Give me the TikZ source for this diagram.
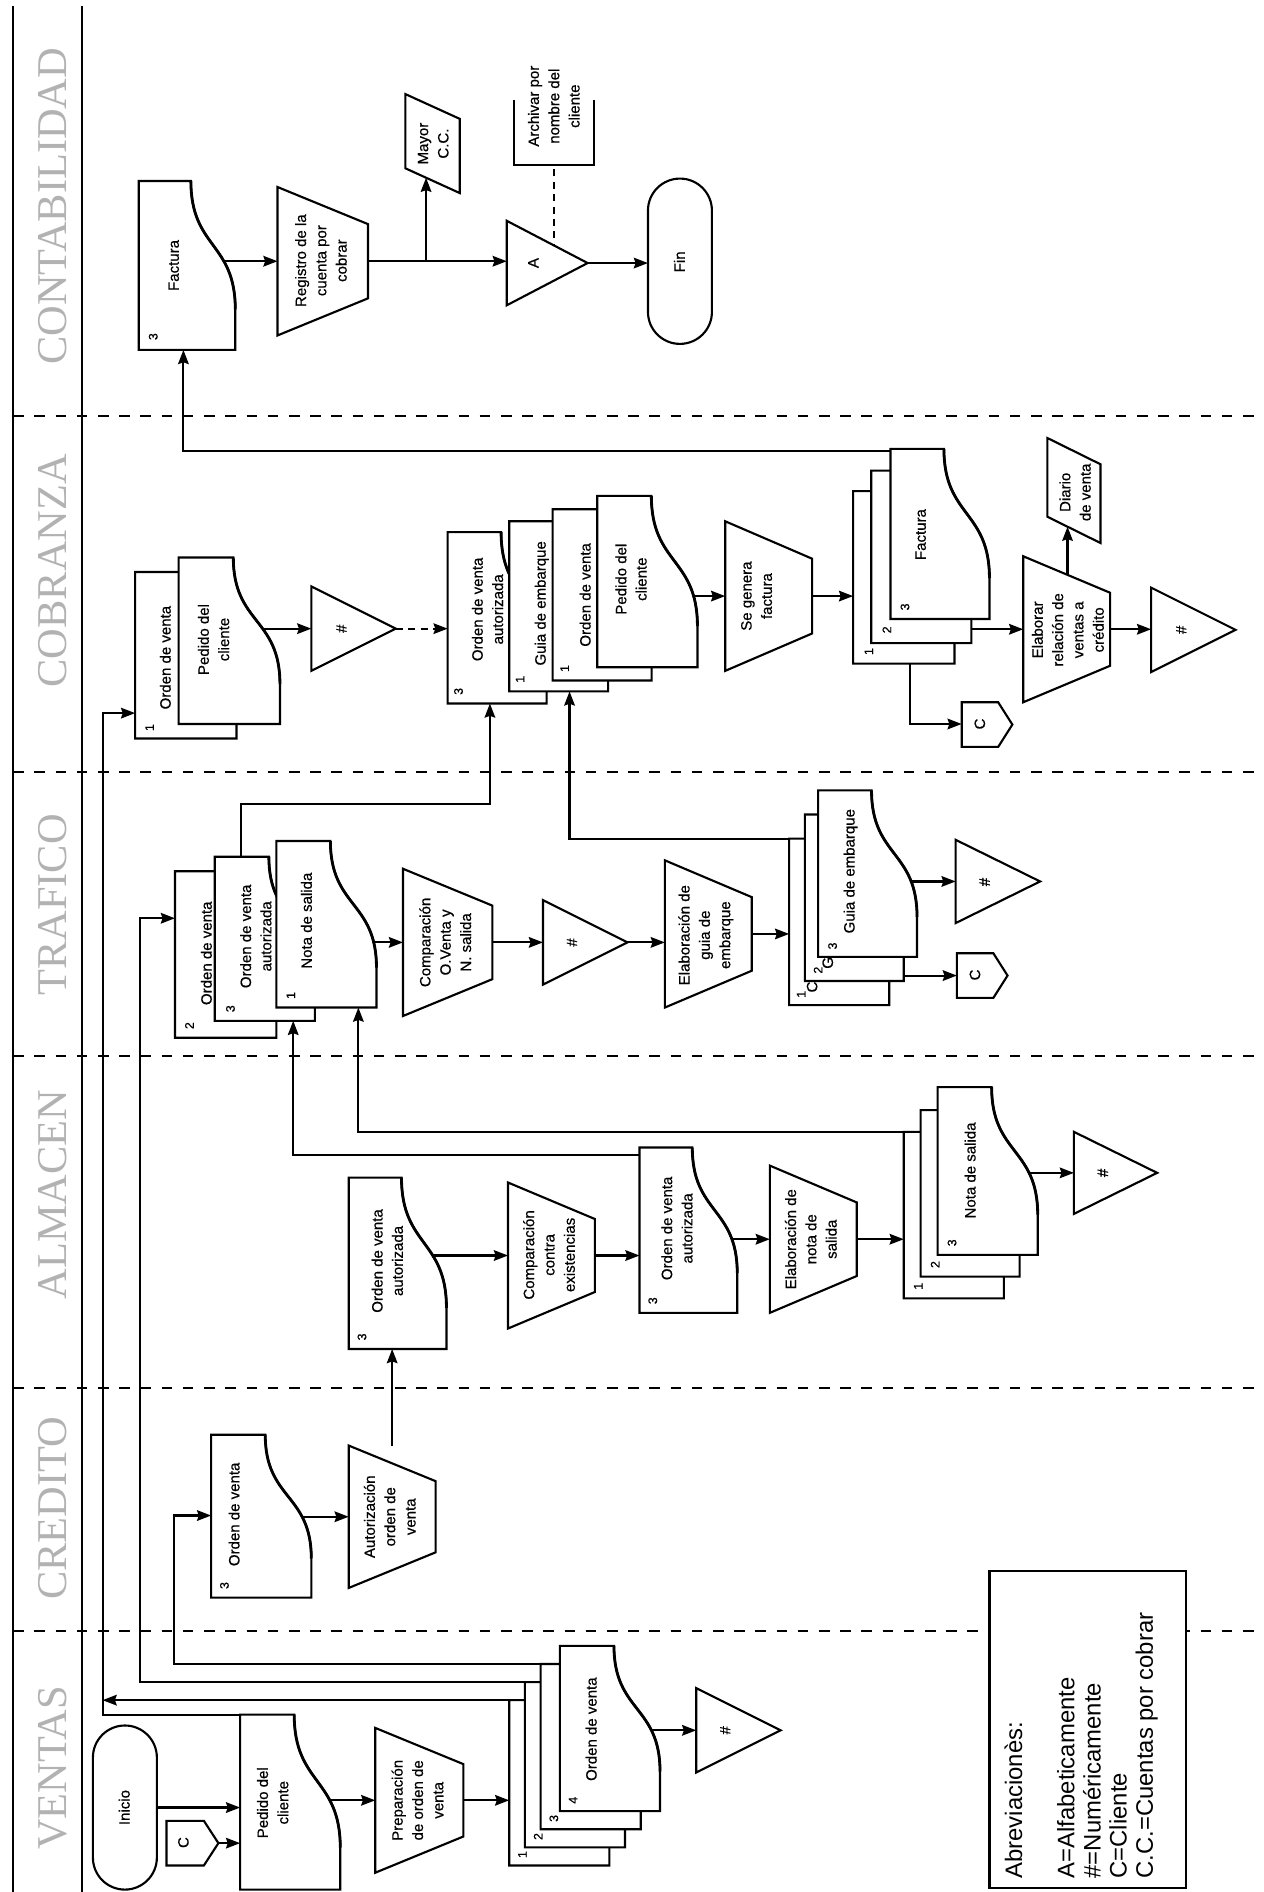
\documentclass[tikz,border=0pt]{standalone}
\usepackage{fontspec}
\setmainfont{Liberation Sans}
\newfontfamily\etiq{Liberation Sans}[FakeBold=0.5]
\newfontfamily\cabecera{Liberation Serif}
\usetikzlibrary{arrows.meta,fit}
\pgfdeclarelayer{fondo}
\pgfsetlayers{fondo,main}

% Documento (borde ondulado a la derecha)
\newcommand{\hoja}[5]{%
  \draw[forma] (#2,#3) -- ({#2+0.54*(#4-#2)},#3)
    .. controls ({#2+0.54*(#4-#2)},{#3+0.4*(#5-#3)}) and (#4,{#3+0.36*(#5-#3)}) .. (#4,{#3+0.76*(#5-#3)})
    -- (#4,#5) -- (#2,#5) -- cycle;
  \draw[line width=1.6pt] ({#2+0.54*(#4-#2)},#3)
    .. controls ({#2+0.54*(#4-#2)},{#3+0.4*(#5-#3)}) and (#4,{#3+0.36*(#5-#3)}) .. (#4,{#3+0.76*(#5-#3)});
  \node[caja, fit={(#2,#3) (#4,#5)}] (#1) {};}
% Operacion manual
\newcommand{\trapecio}[5]{%
  \pgfmathsetmacro{\desl}{0.25*(#5-#3)}
  \draw[forma] (#2,#3) -- (#4,{#3+\desl}) -- (#4,{#5-\desl}) -- (#2,#5) -- cycle;
  \node[caja, fit={(#2,#3) (#4,#5)}] (#1) {};}
% Registro (paralelogramo)
\newcommand{\paral}[5]{%
  \pgfmathsetmacro{\desl}{0.25*(#5-#3)}
  \draw[forma] (#2,#3) -- (#4,{#3+\desl}) -- (#4,#5) -- (#2,{#5-\desl}) -- cycle;
  \node[caja, fit={(#2,#3) (#4,#5)}] (#1) {};
  \coordinate (#1-in) at ({#2+0.38*(#4-#2)},{#5-\desl+0.38*\desl});}
% Archivo
\newcommand{\triang}[5]{%
  \draw[forma] (#2,#3) -- (#4,{(#3+#5)/2}) -- (#2,#5) -- cycle;
  \node[caja, fit={(#2,#3) (#4,#5)}] (#1) {};}
% Conector de pagina
\newcommand{\conec}[5]{%
  \draw[forma] (#2,#3) -- ({#2+0.72*(#4-#2)},#3) -- (#4,{(#3+#5)/2})
    -- ({#2+0.72*(#4-#2)},#5) -- (#2,#5) -- cycle;
  \node[caja, fit={(#2,#3) (#4,#5)}] (#1) {};}
% Terminal
\newcommand{\terminal}[5]{%
  \pgfmathsetmacro{\radio}{(#4-#2)/2}
  \draw[forma] (#2,{#3+\radio}) arc[start angle=180,end angle=360,radius=\radio]
    -- (#4,{#5-\radio}) arc[start angle=0,end angle=180,radius=\radio] -- cycle;
  \node[caja, fit={(#2,#3) (#4,#5)}] (#1) {};}

\begin{document}
\begin{tikzpicture}[x=0.024cm, y=-0.024cm,
  forma/.style={draw, fill=white, line width=1.2pt},
  caja/.style={inner sep=0pt, outer sep=0pt},
  txt/.style={rotate=90, align=center, inner sep=0pt, font=\etiq\fontsize{8.5}{11.5}\selectfont},
  num/.style={rotate=90, inner sep=0pt, font=\etiq\fontsize{7}{8}\selectfont},
  cab/.style={rotate=90, inner sep=0pt, text=gray!60, font=\cabecera\fontsize{24}{24}\selectfont},
  arr/.style={line width=1.2pt, -{Stealth[length=8pt,width=6pt,inset=1pt]}},
  carril/.style={line width=1.2pt, dash pattern=on 6pt off 6pt}]

\useasboundingbox (0,0) rectangle (1047,1568);

% Encabezados
\node[cab] (h-cont) at (44,171) {CONTABILIDAD};
\node[cab] (h-cobr) at (44,473) {COBRANZA};
\node[cab] (h-traf) at (44,750) {TRAFICO};
\node[cab] (h-alm) at (44,990) {ALMACEN};
\node[cab] (h-cred) at (44,1250) {CREDITO};
\node[cab] (h-vent) at (44,1465) {VENTAS};

% CONTABILIDAD
\hoja{fact}{115}{150}{195}{290}
\node[num] (fact-n) at (127,279) {3};
\node[txt] (fact-t) at (144,220) {Factura};
\trapecio{reg}{230}{155}{305}{278}
\node[txt] (reg-t) at (266,216) {Registro de la\\cuenta por\\cobrar};
\paral{mayor}{336}{78}{381}{160}
\node[txt] (mayor-t) at (359,119) {Mayor\\C.C.};
\triang{trA}{420}{183}{487}{253}
\node[txt] (trA-t) at (442,218) {A};
\draw[forma, fill=none] (426,83) -- (426,137) -- (492,137) -- (492,83);
\node[caja, fit={(426,83) (492,137)}] (arch) {};
\node[txt] (arch-t) at (459,88) {Archivar por\\nombre del\\cliente};
\terminal{fin}{537}{148}{590}{285}
\node[txt] (fin-t) at (563,217) {Fin};

% COBRANZA
\hoja{cb1a}{112}{474}{196}{612}
\node[num] (cb1a-n) at (124,603) {1};
\node[txt] (cb1a-t) at (137,545) {Orden de venta};
\hoja{cb1b}{148}{462}{232}{600}
\node[txt] (cb1b-t) at (177,530) {Pedido del\\cliente};
\triang{cbT1}{258}{486}{328}{556}
\node[txt] (cbT1-t) at (283,521) {\#};
\hoja{cbA}{371}{441}{453}{583}
\node[num] (cbA-n) at (380,573) {3};
\node[txt] (cbA-t) at (404,505) {Orden de venta\\autorizada};
\hoja{cbB}{422}{432}{504}{573}
\node[num] (cbB-n) at (431,563) {1};
\node[txt] (cbB-t) at (449,500) {Guia de embarque};
\hoja{cbC}{458}{422}{540}{564}
\node[num] (cbC-n) at (468,554) {1};
\node[txt] (cbC-t) at (485,493) {Orden de venta};
\hoja{cbD}{495}{411}{578}{553}
\node[txt] (cbD-t) at (523,480) {Pedido del\\cliente};
\trapecio{sgf}{601}{432}{673}{556}
\node[txt] (sgf-t) at (627,494) {Se genera\\factura};
\hoja{fc1}{707}{407}{791}{550}
\node[num] (fc1-n) at (720,540) {1};
\hoja{fc2}{722}{390}{805}{533}
\node[num] (fc2-n) at (735,522) {2};
\hoja{fc3}{738}{372}{820}{513}
\node[num] (fc3-n) at (750,503) {3};
\node[txt] (fc3-t) at (763,443) {Factura};
\conec{cC2}{797}{582}{839}{619}
\node[txt] (cC2-t) at (812,600) {C};
\trapecio{elab}{848}{461}{920}{582}
\node[txt] (elab-t) at (885,522) {Elaborar\\relación de\\ventas a\\crédito};
\paral{diario}{868}{363}{912}{450}
\node[txt] (diario-t) at (891,408) {Diario\\de venta};
\triang{cbT2}{954}{487}{1024}{557}
\node[txt] (cbT2-t) at (979,522) {\#};

% TRAFICO
\hoja{tr2}{145}{722}{229}{860}
\node[num] (tr2-n) at (157,850) {2};
\node[txt] (tr2-t) at (171,790) {Orden de venta};
\hoja{tr3}{178}{710}{261}{846}
\node[num] (tr3-n) at (191,836) {3};
\node[txt] (tr3-t) at (212,776) {Orden de venta\\autorizada};
\hoja{tr1}{229}{697}{312}{835}
\node[num] (tr1-n) at (241,825) {1};
\node[txt] (tr1-t) at (254,763) {Nota de salida};
\trapecio{comp1}{334}{720}{408}{842}
\node[txt] (comp1-t) at (369,781) {Comparación\\O.Venta y\\N. salida};
\triang{trT}{450}{746}{520}{816}
\node[txt] (trT-t) at (474,781) {\#};
\trapecio{elg}{551}{713}{623}{835}
\node[txt] (elg-t) at (585,775) {Elaboración de\\guia de\\embarque};
\hoja{gu1}{654}{695}{737}{833}
\node[num] (gu1-n) at (664,824) {1};
\node[txt] (gu1-t) at (673,818) {C};
\hoja{gu2}{667}{675}{749}{813}
\node[num] (gu2-n) at (678,804) {2};
\node[txt] (gu2-t) at (686,798) {G};
\hoja{gu3}{678}{655}{760}{793}
\node[num] (gu3-n) at (690,784) {3};
\node[txt] (gu3-t) at (705,722) {Guia de embarque};
\triang{trT2}{792}{696}{862}{765}
\node[txt] (trT2-t) at (816,731) {\#};
\conec{cC1}{793}{790}{835}{827}
\node[txt] (cC1-t) at (808,808) {C};

% ALMACEN
\hoja{alm1}{289}{976}{370}{1118}
\node[num] (alm1-n) at (300,1108) {3};
\node[txt] (alm1-t) at (321,1045) {Orden de venta\\autorizada};
\trapecio{compE}{421}{980}{493}{1101}
\node[txt] (compE-t) at (455,1040) {Comparación\\contra\\existencias};
\hoja{alm2}{530}{951}{611}{1088}
\node[num] (alm2-n) at (541,1078) {3};
\node[txt] (alm2-t) at (561,1018) {Orden de venta\\autorizada};
\trapecio{eln}{638}{966}{710}{1088}
\node[txt] (eln-t) at (672,1027) {Elaboración de\\nota de\\salida};
\hoja{nt1}{749}{938}{832}{1076}
\node[num] (nt1-n) at (761,1066) {1};
\hoja{nt2}{763}{920}{845}{1058}
\node[num] (nt2-n) at (775,1048) {2};
\hoja{nt3}{777}{901}{860}{1040}
\node[num] (nt3-n) at (789,1030) {3};
\node[txt] (nt3-t) at (804,970) {Nota de salida};
\triang{ntT}{890}{938}{959}{1006}
\node[txt] (ntT-t) at (914,972) {\#};

% CREDITO
\hoja{cred}{175}{1189}{258}{1324}
\node[num] (cred-n) at (186,1314) {3};
\node[txt] (cred-t) at (194,1255) {Orden de venta};
\trapecio{autz}{289}{1198}{361}{1316}
\node[txt] (autz-t) at (323,1257) {Autorización\\orden de\\venta};

% VENTAS
\terminal{ini}{77}{1430}{130}{1566}
\node[txt] (ini-t) at (103,1498) {Inicio};
\conec{cC0}{138}{1509}{181}{1546}
\node[txt] (cC0-t) at (152,1527) {C};
\hoja{ped}{199}{1421}{282}{1566}
\node[txt] (ped-t) at (226,1494) {Pedido del\\cliente};
\trapecio{prep}{311}{1432}{384}{1552}
\node[txt] (prep-t) at (346,1492) {Preparación\\de orden de\\venta};
\hoja{ov1}{422}{1409}{505}{1546}
\node[num] (ov1-n) at (433,1537) {1};
\hoja{ov2}{435}{1394}{518}{1531}
\node[num] (ov2-n) at (446,1522) {2};
\hoja{ov3}{448}{1379}{531}{1516}
\node[num] (ov3-n) at (459,1507) {3};
\hoja{ov4}{464}{1364}{547}{1501}
\node[num] (ov4-n) at (475,1492) {4};
\node[txt] (ov4-t) at (490,1433) {Orden de venta};
\triang{vT}{577}{1399}{647}{1469}
\node[txt] (vT-t) at (601,1434) {\#};

% Abreviaciones
\node[forma, caja, fit={(820,1302) (983,1565)}] (abrev) {};
\node[rotate=90, align=left, anchor=west, inner sep=0pt, font=\fontsize{13.5}{14.8}\selectfont]
  (abrev-t) at (896,1557) {Abreviacionès:\\[14.8pt]A=Alfabeticamente\\\#=Numéricamente\\C=Cliente\\C.C.=Cuentas por cobrar};

\begin{pgfonlayer}{fondo}
\fill[white] (0,0) rectangle (1047,1568);
% Carriles
\draw[line width=1.2pt] (11,5) -- (11,1568);
\draw[line width=1.2pt] (68,5) -- (68,1568);
\foreach \y in {345,640,875,1150,1352}
  \draw[carril] (11,\y) -- (1047,\y);

% Codos
\coordinate (k1) at (85,591);
\coordinate (k2) at (116,761);
\coordinate (k3) at (144,1256);
\coordinate (k6) at (297,938);
\coordinate (k7) at (243,957);
\coordinate (k8) at (472,695);
\coordinate (k9) at (200,666);
\coordinate (k10) at (406,666);
\coordinate (k11) at (754,600);
\coordinate (k12) at (152,374);

% Ventas
\draw[arr] (ini) -- (ini -| ped.west);
\draw[arr] (cC0) -- (cC0 -| ped.west);
\draw[arr] (prep -| ped) -- (prep.west);
\draw[arr] (prep) -- (prep -| ov1.west);
\draw[arr] (vT -| ov4) -- (vT.west);
\draw[arr] (ov3.north west) -| (k3) -- (k3 -| cred.west);
\draw[arr] (ov2.north west) -| (k2) -- (k2 -| tr2.west);
\draw[arr] (ov1.north west) -- (ov1.north west -| k1);
\draw[arr] (ped.north west) -| (k1) -- (k1 -| cb1a.west);

% Credito
\draw[arr] (autz -| cred) -- (autz.west);
\draw[arr] (autz) -- (autz |- alm1.south);

% Almacen
\draw[arr] (compE -| alm1) -- (compE.west);
\draw[arr] (compE) -- (compE -| alm2.west);
\draw[arr] (eln -| alm2) -- (eln.west);
\draw[arr] (eln) -- (eln -| nt1.west);
\draw[arr] (ntT -| nt3) -- (ntT.west);
\draw[arr] (nt1.north west) -- (k6) -- (k6 |- tr1.south);
\draw[arr] (alm2.west |- k7) -- (k7) -- (k7 |- tr3.south);

% Trafico
\draw[arr] (comp1 -| tr1) -- (comp1.west);
\draw[arr] (comp1) -- (comp1 -| trT.west);
\draw[arr] (trT) -- (trT -| elg.west);
\draw[arr] (elg) -- (elg -| gu1.west);
\draw[arr] (trT2 -| gu3) -- (trT2.west);
\draw[arr] (cC1 -| gu2) -- (cC1.west);
\draw[arr] (gu1.north west) -- (k8) -- (k8 |- cbB.south);
\draw[arr] (k9 |- tr3.north) -- (k9) -- (k10) -- (k10 |- cbA.south);

% Cobranza
\draw[arr] (cbT1 -| cb1b) -- (cbT1.west);
\draw[arr, dash pattern=on 4pt off 3pt] (cbT1) -- (cbT1 -| cbA.west);
\draw[arr] (sgf -| cbD) -- (sgf.west);
\draw[arr] (sgf) -- (sgf -| fc1.west);
\draw[arr] (elab -| fc2) -- (elab.west);
\draw[arr] (k11 |- fc1.south) -- (k11) -- (k11 -| cC2.west);
\draw[arr] (elab -| diario-in) -- (diario-in);
\draw[arr] (elab) -- (elab -| cbT2.west);
\draw[arr] (fc3.west |- k12) -- (k12) -- (k12 |- fact.south);

% Contabilidad
\draw[arr] (reg -| fact) -- (reg.west);
\draw[arr] (reg) -- (reg -| trA.west);
\draw[arr] (reg -| mayor-in) -- (mayor-in);
\draw[arr] (trA) -- (trA -| fin.west);
\draw[line width=1.2pt, dash pattern=on 4pt off 3pt] (trA -| arch) -- (arch.south);
\end{pgfonlayer}

\end{tikzpicture}
\end{document}
